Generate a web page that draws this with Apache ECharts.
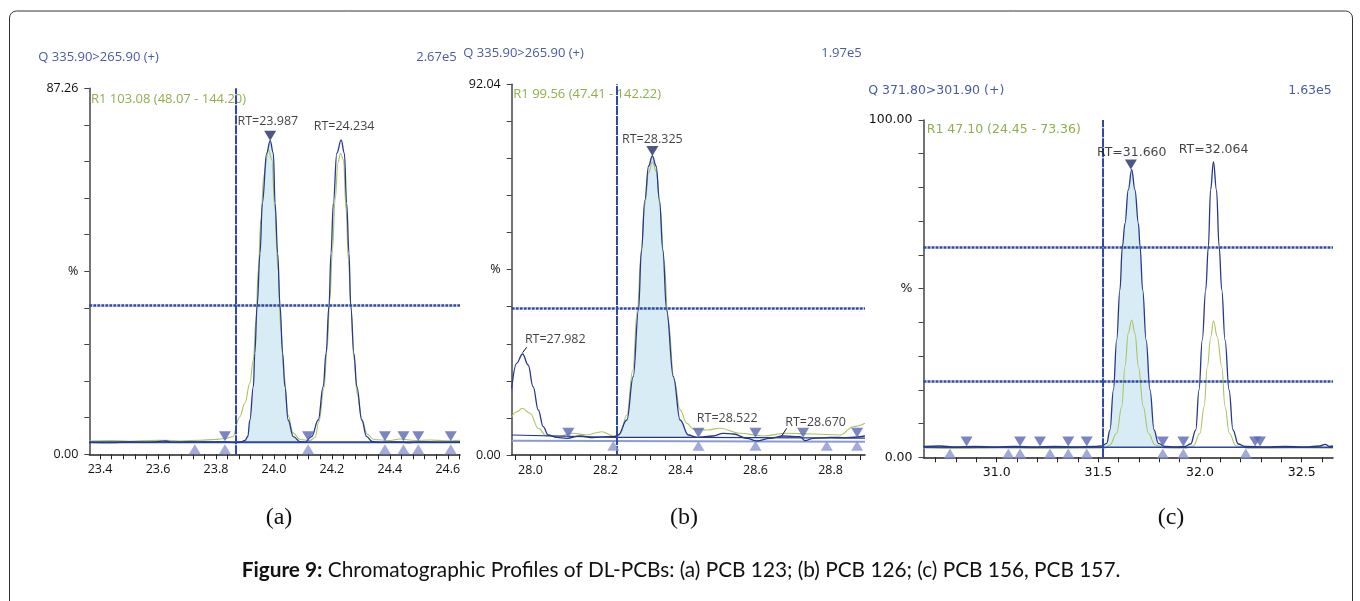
<!DOCTYPE html>
<html><head><meta charset="utf-8">
<script src="https://cdn.jsdelivr.net/npm/echarts@6/dist/echarts.min.js"></script>
<style>html,body{margin:0;padding:0;background:#fff;}#c{width:1360px;height:601px;}</style>
</head><body><div id="c"></div>
<script>
// ================= DATA =================
const HEADERS = ['Q 335.90>265.90 (+)', 'Q 335.90>265.90 (+)', 'Q 371.80>301.90 (+)'];
const INTENSITIES = ['2.67e5', '1.97e5', '1.63e5'];
const R1_TEXTS = ['R1 103.08 (48.07 - 144.20)', 'R1 99.56 (47.41 - 142.22)', 'R1 47.10 (24.45 - 73.36)'];
const PANEL_LABELS = ['(a)', '(b)', '(c)'];
const CAPTION_BOLD = 'Figure 9:';
const CAPTION_TEXT = ' Chromatographic Profiles of DL-PCBs: (a) PCB 123; (b) PCB 126; (c) PCB 156, PCB 157.';
const Y_TOPS = [87.26, 92.04, 100.00];

// ---- panel (a) ----
const A_TICKS = [23.4, 23.6, 23.8, 24.0, 24.2, 24.4, 24.6];
const A_RT = [23.987, 24.234];
const A_BLUE = [[23.362,2.86],[23.434,2.81],[23.503,2.93],[23.572,2.86],[23.606,3.10],[23.627,3.17],[23.648,2.86],[23.710,2.93],[23.779,2.98],[23.831,2.98],[23.865,2.81],[23.885,2.93],[23.900,3.29],[23.910,4.24],[23.917,8.18],[23.929,16.12],[23.934,24.08],[23.942,35.43],[23.952,47.92],[23.960,59.84],[23.975,71.77],[23.987,74.77],[23.998,71.77],[24.004,59.84],[24.013,47.92],[24.021,35.43],[24.030,24.08],[24.038,16.12],[24.049,8.18],[24.067,4.20],[24.090,3.00],[24.107,2.86],[24.130,4.20],[24.153,8.18],[24.170,16.12],[24.180,24.08],[24.190,35.43],[24.197,47.92],[24.205,59.84],[24.217,71.77],[24.232,74.94],[24.243,71.77],[24.251,59.84],[24.259,47.92],[24.265,35.43],[24.276,24.08],[24.286,16.12],[24.303,8.18],[24.320,4.20],[24.339,3.05],[24.366,2.86],[24.418,2.93],[24.470,2.81],[24.521,2.98],[24.573,2.86],[24.642,2.93]];
const A_GREEN = [[23.362,3.17],[23.434,3.29],[23.503,3.12],[23.572,3.29],[23.624,3.36],[23.675,3.17],[23.745,3.36],[23.796,3.53],[23.831,3.77],[23.858,4.20],[23.882,8.96],[23.900,12.23],[23.917,17.0],[23.929,22.5],[23.938,32.0],[23.946,43.9],[23.955,55.9],[23.965,66.6],[23.981,72.55],[23.993,70.2],[24.003,58.3],[24.014,43.9],[24.024,29.6],[24.035,18.9],[24.048,9.4],[24.066,5.1],[24.090,3.53],[24.124,3.29],[24.142,4.0],[24.155,7.7],[24.173,15.8],[24.183,24.9],[24.193,36.8],[24.202,48.7],[24.211,60.6],[24.221,69.5],[24.230,71.77],[24.240,70.2],[24.249,58.3],[24.257,46.3],[24.266,34.4],[24.276,22.5],[24.288,14.1],[24.304,8.2],[24.321,4.84],[24.345,3.53],[24.400,3.29],[24.435,3.65],[24.487,3.29],[24.539,3.41],[24.590,3.22],[24.642,3.34]];
const A_FILL = [23.868, 24.117];
const A_FILL_BASE = 2.86;
const A_BASELINES = [[[23.362,2.86],[24.642,2.86]]];
const A_MARK_BASE = 2.86;
const A_UP = [23.727, 23.831, 24.118, 24.383, 24.447, 24.498, 24.610];
const A_DOWN = [23.831, 24.118, 24.383, 24.447, 24.498, 24.610];
const A_PEAK = [[23.987, 74.77]];
const A_CURSOR_X = 23.868;
const A_CURSOR_Y = [35.43];

// ---- panel (b) ----
const B_TICKS = [28.0, 28.2, 28.4, 28.6, 28.8];
const B_RT = [27.982, 28.325, 28.522, 28.670];
const B_BLUE = [[27.950,16.56],[27.963,22.77],[27.979,25.08],[27.994,22.35],[28.007,16.96],[28.021,11.17],[28.034,7.03],[28.047,4.97],[28.070,4.39],[28.097,4.15],[28.132,4.72],[28.167,4.30],[28.203,4.54],[28.225,4.54],[28.234,4.97],[28.257,8.69],[28.274,19.44],[28.288,36.0],[28.296,50.9],[28.305,63.3],[28.315,71.76],[28.325,74.24],[28.335,71.76],[28.344,63.3],[28.353,50.9],[28.363,36.0],[28.381,19.44],[28.399,8.69],[28.421,4.97],[28.443,4.39],[28.487,4.72],[28.514,5.39],[28.541,5.21],[28.577,4.15],[28.603,3.48],[28.639,4.15],[28.674,4.72],[28.719,4.54],[28.732,3.55],[28.754,4.15],[28.799,4.39],[28.843,4.30],[28.892,4.72]];
const B_GREEN = [[27.950,9.51],[27.963,10.68],[27.979,11.60],[27.999,10.35],[28.021,6.63],[28.043,4.72],[28.079,4.72],[28.114,5.39],[28.150,4.97],[28.190,5.79],[28.221,4.72],[28.239,5.21],[28.257,9.93],[28.273,21.1],[28.285,36.0],[28.295,49.7],[28.305,62.1],[28.315,70.0],[28.325,72.75],[28.336,70.27],[28.345,62.1],[28.356,48.4],[28.367,33.5],[28.383,18.6],[28.399,11.2],[28.417,7.87],[28.434,6.38],[28.470,6.21],[28.505,6.63],[28.559,5.39],[28.621,4.72],[28.683,5.39],[28.754,5.21],[28.825,4.97],[28.861,7.03],[28.892,7.87]];
const B_FILL = [28.225, 28.443];
const B_FILL_BASE = 4.39;
const B_BASELINES = [[[27.950,3.55],[28.892,3.30]], [[27.950,4.97],[28.225,4.39],[28.443,4.39],[28.892,4.20]]];
const B_MARK_BASE = 3.97;
const B_UP = [28.221, 28.448, 28.600, 28.790, 28.871];
const B_DOWN = [28.101, 28.448, 28.600, 28.727, 28.871];
const B_PEAK = [[28.325, 74.24]];
const B_CURSOR_X = 28.227;
const B_CURSOR_Y = [36.5];
const B_LEADERS = [[[27.979,25.4],[27.990,26.74]], [[28.670,4.72],[28.683,6.63]]];

// ---- panel (c) ----
const C_TICKS = [31.0, 31.5, 32.0, 32.5];
const C_RT = [31.660, 32.064];
const C_BLUE = [[30.640,3.20],[30.721,3.35],[30.795,3.05],[30.893,3.20],[30.992,3.05],[31.090,3.20],[31.188,3.05],[31.287,3.20],[31.385,3.05],[31.484,3.20],[31.516,3.35],[31.541,4.15],[31.557,8.09],[31.574,19.95],[31.590,34.78],[31.606,49.6],[31.618,62.44],[31.631,69.37],[31.647,79.25],[31.664,85.32],[31.680,79.25],[31.697,69.37],[31.705,62.44],[31.718,49.6],[31.735,34.78],[31.754,19.95],[31.774,8.09],[31.795,4.15],[31.828,3.20],[31.877,3.05],[31.926,3.20],[31.954,3.94],[31.979,8.09],[31.995,19.95],[32.011,34.78],[32.028,49.6],[32.041,62.44],[32.052,79.25],[32.066,87.64],[32.081,79.25],[32.094,62.44],[32.107,49.6],[32.123,34.78],[32.143,19.95],[32.162,8.09],[32.188,3.94],[32.222,3.20],[32.320,3.05],[32.418,3.20],[32.516,3.05],[32.590,3.35],[32.615,3.85],[32.639,3.20],[32.654,3.35]];
const C_GREEN = [[30.640,2.76],[30.820,2.61],[31.016,2.76],[31.213,2.61],[31.410,2.67],[31.533,2.76],[31.557,3.65],[31.590,7.12],[31.615,15.0],[31.631,26.86],[31.647,36.76],[31.664,40.71],[31.680,36.76],[31.697,26.86],[31.721,15.0],[31.746,7.12],[31.779,3.65],[31.828,2.76],[31.926,2.67],[31.967,3.35],[32.000,7.12],[32.020,15.0],[32.036,26.86],[32.053,35.75],[32.066,40.41],[32.085,35.75],[32.107,26.86],[32.123,15.0],[32.144,7.12],[32.177,3.35],[32.245,2.67],[32.442,2.76],[32.654,2.67]];
const C_FILL = [31.516, 31.828];
const C_FILL_BASE = 2.96;
const C_BASELINES = [[[30.640,2.96],[32.654,2.96]]];
const C_MARK_BASE = 2.96;
const C_UP = [30.770, 31.057, 31.115, 31.262, 31.352, 31.443, 31.817, 31.918, 32.225];
const C_DOWN = [30.852, 31.115, 31.213, 31.352, 31.443, 31.817, 31.918, 32.271, 32.295];
const C_PEAK = [[31.660, 85.32]];
const C_CURSOR_X = 31.516;
const C_CURSOR_Y = [62.35, 22.62];

// ================= LAYOUT / STYLE =================
const COL = {blue:'#27388c', green:'#a9c45e', fill:'#d8ecf5', cursor:'#2f4aa3', up:'#8b95cf', down:'#5a66b2',
  peak:'#1f2d63', header:'#4a5aa6', r1:'#8fb04c', text:'#111', baseNavy:'#2f47a0', baseLight:'#8c9ad4'};

const PANELS = [
  { grid:{left:89.3, top:88.3, width:370.7, height:366}, xMin:23.363, xMax:24.642, tick:[23.4, 24.64, 0.04],
    font:'Open Sans', fs:12.5, xTicks:A_TICKS, yTop:Y_TOPS[0], rt:A_RT,
    labelPos:[{x:23.979, y:79.3, align:'center'}, {x:24.242, y:78.1, align:'center'}],
    blue:A_BLUE, green:A_GREEN, fill:A_FILL, fillBase:A_FILL_BASE,
    baselines:A_BASELINES, baseStyles:[{color:COL.baseNavy, width:2}],
    markBase:A_MARK_BASE, up:A_UP, down:A_DOWN, upOff:7, downOff:-6, peak:A_PEAK,
    cursorX:A_CURSOR_X, cursorY:A_CURSOR_Y, leaders:[],
    header:[38.3, 57.3], intens:[456.7, 57.3], r1:[91, 99.3], hfs:13 },
  { grid:{left:511.7, top:84.3, width:353.3, height:370.7}, xMin:27.95, xMax:28.892, tick:[27.96, 28.88, 0.04],
    font:'Open Sans', fs:12.5, xTicks:B_TICKS, yTop:Y_TOPS[1], rt:B_RT,
    labelPos:[{x:27.985, y:28.73, align:'left'}, {x:28.325, y:78.46, align:'center'}, {x:28.5245, y:9.11, align:'center'}, {x:28.679, y:8.02, align:'left'}],
    blue:B_BLUE, green:B_GREEN, fill:B_FILL, fillBase:B_FILL_BASE,
    baselines:B_BASELINES, baseStyles:[{color:COL.baseLight, width:2}, {color:COL.blue, width:1.2}],
    markBase:B_MARK_BASE, up:B_UP, down:B_DOWN, upOff:6.8, downOff:-6.2, peak:B_PEAK,
    cursorX:B_CURSOR_X, cursorY:B_CURSOR_Y, leaders:B_LEADERS,
    header:[463.3, 53.3], intens:[861.7, 53.3], r1:[513.3, 94.3], hfs:13 },
  { grid:{left:923.5, top:120, width:409.5, height:337.3}, xMin:30.64, xMax:32.654, tick:[30.7, 32.6, 0.1],
    font:'DejaVu Sans', fs:12.5, xTicks:C_TICKS, yTop:Y_TOPS[2], rt:C_RT,
    labelPos:[{x:31.664, y:90.3, align:'center'}, {x:32.067, y:91.1, align:'center'}],
    blue:C_BLUE, green:C_GREEN, fill:C_FILL, fillBase:C_FILL_BASE,
    baselines:C_BASELINES, baseStyles:[{color:COL.baseNavy, width:1.6}],
    markBase:C_MARK_BASE, up:C_UP, down:C_DOWN, upOff:6.3, downOff:-5.8, peak:C_PEAK,
    cursorX:C_CURSOR_X, cursorY:C_CURSOR_Y, leaders:[],
    header:[868.3, 91], intens:[1331.7, 91], r1:[926.7, 130], hfs:12.5 }
];
const PANEL_LABEL_POS = [[279, 518], [684, 518], [1171, 518]];

function ticksBetween(a, b, step) {
  const out = []; const n = Math.round((b - a) / step);
  for (let i = 0; i <= n; i++) out.push(+(a + i * step).toFixed(5));
  return out;
}

const grids = [], xAxes = [], yAxes = [], series = [], graphics = [];
graphics.push({type:'rect', shape:{x:9.5, y:11, width:1343, height:640, r:7}, style:{fill:'none', stroke:'#333', lineWidth:1}, silent:true});

PANELS.forEach((P, i) => {
  grids.push(Object.assign({containLabel:false}, P.grid));
  xAxes.push({type:'value', gridIndex:i, min:P.xMin, max:P.xMax,
    axisLine:{show:true, onZero:false, lineStyle:{color:'#222', width:1.5}},
    axisTick:{show:true, customValues:ticksBetween(P.tick[0], P.tick[1], P.tick[2]), length:5, lineStyle:{color:'#222', width:1}},
    axisLabel:{show:true, customValues:P.xTicks, formatter:v => v.toFixed(1), margin:9, color:COL.text, fontFamily:P.font, fontSize:P.fs},
    splitLine:{show:false}});
  const top = P.yTop;
  yAxes.push({type:'value', gridIndex:i, min:0, max:top,
    axisLine:{show:true, onZero:false, lineStyle:{color:'#444', width:1.5}},
    axisTick:{show:true, customValues:ticksBetween(0, top, top / 10), length:5, lineStyle:{color:'#444', width:1}},
    axisLabel:{show:true, customValues:[0, top / 2, top], margin:11, color:COL.text, fontFamily:P.font, fontSize:P.fs,
      formatter:v => (v < 1e-9 ? '0.00' : (Math.abs(v - top) < 1e-6 ? top.toFixed(2) : '%'))},
    splitLine:{show:false}});
  const ax = {xAxisIndex:i, yAxisIndex:i};
  series.push(Object.assign({type:'line', data:P.blue.filter(p => p[0] >= P.fill[0] && p[0] <= P.fill[1]),
    smooth:0.4, smoothMonotone:'x', symbol:'none', lineStyle:{width:0}, silent:true,
    areaStyle:{color:COL.fill, opacity:1, origin:P.fillBase}, z:1}, ax));
  series.push(Object.assign({type:'line', data:P.green, smooth:0.4, smoothMonotone:'x', symbol:'none', silent:true,
    lineStyle:{color:COL.green, width:1.1}, z:2}, ax));
  P.baselines.forEach((b, k) => series.push(Object.assign({type:'line', data:b, symbol:'none', silent:true,
    lineStyle:Object.assign({}, P.baseStyles[k]), z:3}, ax)));
  const cur = [{xAxis:P.cursorX, lineStyle:{color:COL.cursor, width:2, type:[9,1]}}]
    .concat(P.cursorY.map(y => ({yAxis:y, lineStyle:{color:COL.cursor, width:2.5, type:[3,1]}})));
  series.push(Object.assign({type:'line', data:P.blue, smooth:0.4, smoothMonotone:'x', symbol:'none', silent:true,
    lineStyle:{color:COL.blue, width:1.3}, z:4,
    markLine:{silent:true, symbol:'none', label:{show:false}, data:cur}}, ax));
  series.push(Object.assign({type:'scatter', data:P.up.map(x => [x, P.markBase]), symbol:'triangle', symbolSize:[12, 10],
    symbolOffset:[0, P.upOff], itemStyle:{color:COL.up}, silent:true, z:5}, ax));
  series.push(Object.assign({type:'scatter', data:P.down.map(x => [x, P.markBase]), symbol:'triangle', symbolSize:[12, 10],
    symbolRotate:180, symbolOffset:[0, P.downOff], itemStyle:{color:COL.down}, silent:true, z:5}, ax));
  series.push(Object.assign({type:'scatter', data:P.peak, symbol:'triangle', symbolSize:[12, 10], symbolRotate:180,
    symbolOffset:[0, -5], itemStyle:{color:COL.peak}, silent:true, z:6}, ax));
  P.leaders.forEach(l => series.push(Object.assign({type:'line', data:l, symbol:'none', silent:true,
    lineStyle:{color:'#111', width:1}, z:6}, ax)));
  series.push(Object.assign({type:'scatter', symbolSize:0.1, itemStyle:{color:'rgba(0,0,0,0)'}, silent:true, z:7,
    data:P.rt.map((rt, k) => ({value:[P.labelPos[k].x, P.labelPos[k].y], name:'RT=' + rt.toFixed(3),
      label:{position:P.labelPos[k].align === 'left' ? 'right' : 'inside', distance:0}})),
    label:{show:true, formatter:'{b}', color:COL.text, fontFamily:P.font, fontSize:P.fs}}, ax));
  graphics.push({type:'text', silent:true, style:{text:HEADERS[i], x:P.header[0], y:P.header[1], fill:COL.header,
    font:P.hfs + 'px "' + P.font + '"', textAlign:'left', textVerticalAlign:'middle'}});
  graphics.push({type:'text', silent:true, style:{text:INTENSITIES[i], x:P.intens[0], y:P.intens[1], fill:COL.header,
    font:P.hfs + 'px "' + P.font + '"', textAlign:'right', textVerticalAlign:'middle'}});
  graphics.push({type:'text', silent:true, style:{text:R1_TEXTS[i], x:P.r1[0], y:P.r1[1], fill:COL.r1,
    font:P.hfs + 'px "' + P.font + '"', textAlign:'left', textVerticalAlign:'middle'}});
  graphics.push({type:'text', silent:true, style:{text:PANEL_LABELS[i], x:PANEL_LABEL_POS[i][0], y:PANEL_LABEL_POS[i][1],
    fill:'#111', font:'24px "Liberation Serif"', textAlign:'center', textVerticalAlign:'middle'}});
});
graphics.push({type:'text', silent:true, style:{text:'{b|' + CAPTION_BOLD + '}{n|' + CAPTION_TEXT + '}', x:681, y:570,
  textAlign:'center', textVerticalAlign:'middle',
  rich:{b:{fontFamily:'Lato', fontSize:20.8, fontWeight:'bold', fill:'#111'}, n:{fontFamily:'Lato', fontSize:20.8, fill:'#111'}}}});

const chart = echarts.init(document.getElementById('c'));
chart.setOption({animation:false, backgroundColor:'#fff', grid:grids, xAxis:xAxes, yAxis:yAxes, series:series, graphic:graphics});
</script></body></html>
